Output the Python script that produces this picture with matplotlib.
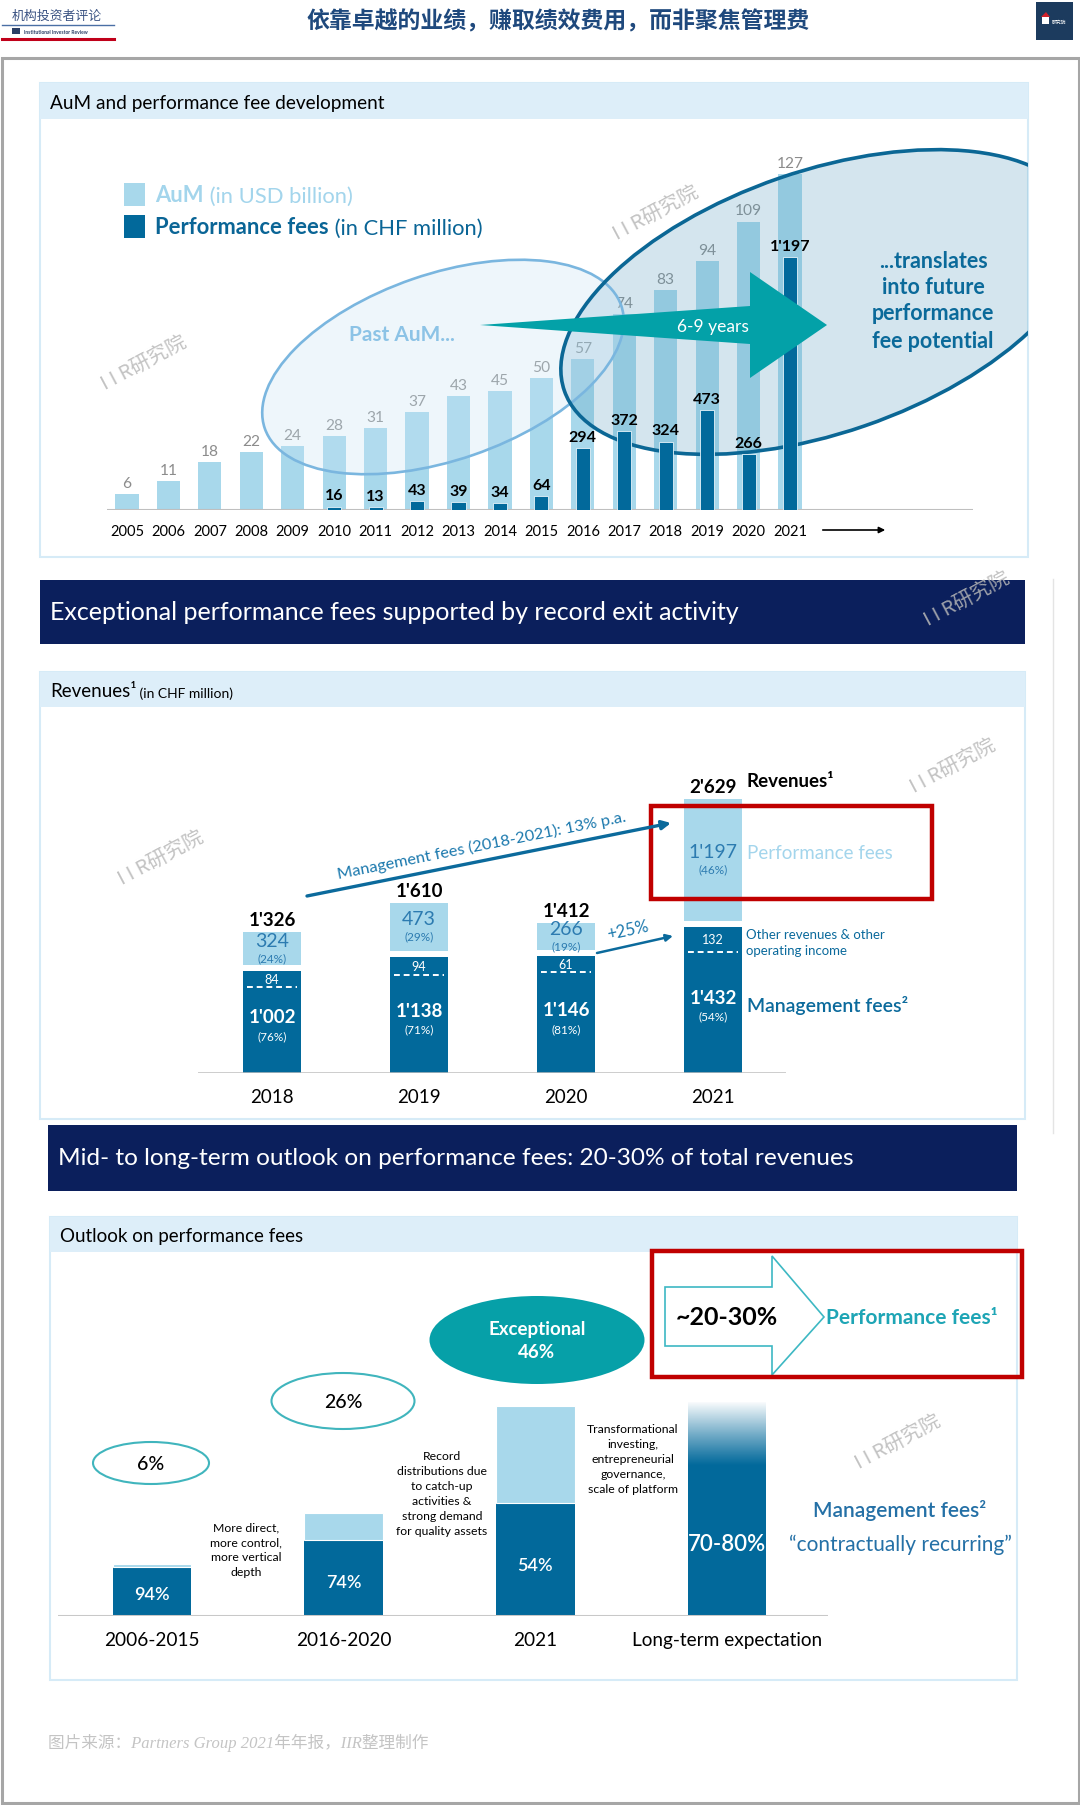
import numpy as np
import matplotlib
matplotlib.use("Agg")
import matplotlib.pyplot as plt
from matplotlib.patches import Rectangle, Ellipse, Polygon

plt.rcParams['font.family'] = ['Lato', 'Noto Sans CJK SC', 'DejaVu Sans']

# ---------------- data ----------------
years = ["2005", "2006", "2007", "2008", "2009", "2010", "2011", "2012", "2013",
         "2014", "2015", "2016", "2017", "2018", "2019", "2020", "2021"]
aum_usd_bn = [6, 11, 18, 22, 24, 28, 31, 37, 43, 45, 50, 57, 74, 83, 94, 109, 127]
perf_fees_chf_m = [None, None, None, None, None, 16, 13, 43, 39, 34, 64,
                   294, 372, 324, 473, 266, 1197]

rev_years = ["2018", "2019", "2020", "2021"]
mgmt_fees_incl_other = [1002, 1138, 1146, 1432]
other_revenues = [84, 94, 61, 132]
rev_perf_fees = [324, 473, 266, 1197]
rev_total = [1326, 1610, 1412, 2629]
mgmt_share_lbl = ["(76%)", "(71%)", "(81%)", "(54%)"]
perf_share_lbl = ["(24%)", "(29%)", "(19%)", "(46%)"]

outlook_periods = ["2006-2015", "2016-2020", "2021", "Long-term expectation"]
outlook_revenue_index = [25, 49, 100, 102]
outlook_mgmt_share = [0.94, 0.74, 0.54, 0.75]
outlook_mgmt_lbl = ["94%", "74%", "54%", "70-80%"]
outlook_perf_lbl = ["6%", "26%", "46%", "~20-30%"]
lt_perf_upper = 0.30

# ---------------- style ----------------
W, H, DPI = 1080, 1806, 100
LIGHT = '#a8d8eb'
DARK = '#02699b'
NAVY = '#0b1f5c'
BAND = '#ddeef9'
TEAL = '#03a1a8'
GRAYL = '#8c8c8c'
RED = '#c00000'
BLUE_TXT = '#0b6a9c'

fig = plt.figure(figsize=(W / DPI, H / DPI), dpi=DPI)
fig.patch.set_facecolor('white')


def pixax(x0, y0, x1, y1, z=1):
    ax = fig.add_axes([x0 / W, 1 - y1 / H, (x1 - x0) / W, (y1 - y0) / H], zorder=z)
    ax.patch.set_visible(False)
    return ax


bg = pixax(0, 0, W, H, z=0)
bg.set_xlim(0, W); bg.set_ylim(H, 0); bg.axis('off')
P = bg.transData

ov = pixax(0, 0, W, H, z=10)
ov.set_xlim(0, W); ov.set_ylim(H, 0); ov.axis('off')

# ---------------- frame & header ----------------
bg.add_patch(Rectangle((1.5, 58.5), W - 3, H - 60, fill=False, ec='#a6a6a6', lw=2.2))
ov.text(558, 22, "依靠卓越的业绩，赚取绩效费用，而非聚焦管理费", ha='center', va='center',
        fontsize=16.5, fontweight='bold', color='#1f497d', family=['Noto Sans CJK SC'])
# left logo
ov.text(57, 16, "机构投资者评论", ha='center', va='center', fontsize=9.3,
        color='#3a5282', family=['Noto Sans CJK SC'])
ov.plot([2, 114], [26, 26], color='#4a6fa5', lw=1.0)
ov.add_patch(Rectangle((12, 29), 8, 6, fc='#2b3f66', ec='none'))
ov.text(24, 32.5, "Institutional Investor Review", ha='left', va='center', fontsize=3.6,
        fontweight='bold', color='#2b3f66')
ov.plot([2, 114], [40, 40], color='#c0001a', lw=2.2)
# right logo
ov.add_patch(Rectangle((1036, 3), 37, 38, fc='#1c3b5e', ec='none'))
ov.add_patch(Rectangle((1042, 18), 7, 7, fc='white', ec='none'))
ov.add_patch(Polygon([[1041, 18], [1046, 13], [1050, 18]], closed=True, fc='#d0202a', ec='none'))
ov.text(1052, 22, "研究院", ha='left', va='center', fontsize=3.5, color='white',
        family=['Noto Sans CJK SC'])


def panel(x0, y0, x1, y1, band_h, title_pieces):
    bg.add_patch(Rectangle((x0, y0), x1 - x0, y1 - y0, fill=False, ec='#d6ebf7', lw=1.5))
    bg.add_patch(Rectangle((x0, y0), x1 - x0, band_h, fc=BAND, ec='none'))
    prev = None
    for s, fs, extra in title_pieces:
        if prev is None:
            prev = ov.text(x0 + 10, y0 + band_h / 2 + 1, s, ha='left', va='center',
                           fontsize=fs, color='black', **extra)
        else:
            prev = ov.annotate(s, xy=(1, 0), xycoords=prev, ha='left', va='bottom',
                               fontsize=fs, color='black', **extra)


def banner(x0, y0, x1, y1, text, fs):
    bg.add_patch(Rectangle((x0, y0), x1 - x0, y1 - y0, fc=NAVY, ec='none'))
    ov.text(x0 + 10, (y0 + y1) / 2, text, ha='left', va='center', fontsize=fs, color='white')


panel(40, 84, 1028, 558, 36, [("AuM and performance fee development", 13.7, {})])
banner(40, 581, 1025, 645, "Exceptional performance fees supported by record exit activity", 18)
panel(40, 673, 1025, 1120, 35, [("Revenues¹", 13.5, {}), (" (in CHF million)", 10, {})])
bg.plot([1053, 1053], [580, 1134], color='#e4e4e4', lw=1)
banner(48, 1126, 1017, 1192,
       "Mid- to long-term outlook on performance fees: 20-30% of total revenues", 17.6)
panel(50, 1218, 1017, 1681, 35, [("Outlook on performance fees", 13.5, {})])

# ---------------- chart 1: AuM & performance fees ----------------
AX1 = (107, 120, 973, 511)
SP1, X01 = 41.44, 127
ax1 = pixax(*AX1, z=2)
ax2 = ax1.twinx()
ax2.set_zorder(3)
ax2.patch.set_visible(False)
xs = np.arange(len(years))
ax1.set_xlim((AX1[0] - X01) / SP1, (AX1[2] - X01) / SP1)
ax1.set_ylim(0, (AX1[3] - AX1[1]) / 2.646)
ax2.set_ylim(0, (AX1[3] - AX1[1]) / 0.2114)

ax1.bar(xs, aum_usd_bn, width=0.56, color=LIGHT, zorder=2)
for i, v in enumerate(aum_usd_bn):
    ax1.annotate(str(v), (i, v), xytext=(0, 3), textcoords='offset points', ha='center',
                 va='bottom', fontsize=11.2, color=GRAYL, zorder=2.5)
ax1.axhline(0, color='#bfbfbf', lw=1.5, zorder=4)
ax1.set_xticks(xs)
ax1.set_xticklabels(years, fontsize=10.5)
ax1.tick_params(axis='x', length=0, pad=10)
ax1.set_yticks([])
for s in ax1.spines.values():
    s.set_visible(False)
ax2.axis('off')

clip1 = Rectangle((40, 84), 988, 474, transform=P)
big_fill = Ellipse((822, 303), 545, 262, angle=-19, transform=P,
                   fc=(0.35, 0.62, 0.75), alpha=0.26, ec='none', zorder=3)
past_fill = Ellipse((443, 368), 377, 186, angle=-19, transform=P,
                    fc=(0.78, 0.89, 0.96), alpha=0.3, ec='none', zorder=3.1)
big_edge = Ellipse((822, 303), 545, 262, angle=-19, transform=P,
                   fill=False, ec='#0b6795', lw=2.6, zorder=3.3)
past_edge = Ellipse((443, 368), 377, 186, angle=-19, transform=P,
                    fill=False, ec='#7ab6df', lw=1.9, zorder=3.2)
for p in (big_fill, past_fill, big_edge, past_edge):
    ax1.add_patch(p)
    p.set_clip_path(clip1)

pi = [i for i, v in enumerate(perf_fees_chf_m) if v is not None]
pv = [v for v in perf_fees_chf_m if v is not None]
ax2.bar(pi, pv, width=0.34, color=DARK, ec='#e6f3fa', lw=0.6, zorder=2)
for i, v in zip(pi, pv):
    ax2.annotate(f"{v:,}".replace(",", "'"), (i, v), xytext=(0, 3), textcoords='offset points',
                 ha='center', va='bottom', fontsize=11.5, fontweight='bold', color='black',
                 zorder=4)

arrow = Polygon([[480, 326], [750, 307], [750, 273], [827, 326], [750, 379], [750, 345]],
                closed=True, transform=P, fc=TEAL, ec='none', zorder=5)
ax2.add_patch(arrow)
arrow.set_clip_on(False)
ax2.text(713, 327, "6-9 years", transform=P, ha='center', va='center', fontsize=12.5,
         color='white', zorder=6)
ax2.text(402, 335, "Past AuM...", transform=P, ha='center', va='center', fontsize=15,
         fontweight='bold', color='#8cc3e6', zorder=6)
for yy, s in zip([262, 288, 314, 341],
                 ["...translates", "into future", "performance", "fee potential"]):
    ax2.text(933, yy, s, transform=P, ha='center', va='center', fontsize=15.5,
             fontweight='bold', color='#0b6a9a', zorder=6)

# legend
ov.add_patch(Rectangle((124, 184), 21, 23, fc=LIGHT, ec='none'))
ov.add_patch(Rectangle((124, 216), 21, 23, fc=DARK, ec='none'))
t = ov.text(155, 196, "AuM", ha='left', va='center', fontsize=15.8, fontweight='bold',
            color='#a3d5ec')
ov.annotate(" (in USD billion)", xy=(1, 0), xycoords=t, ha='left', va='bottom',
            fontsize=15.8, color='#a3d5ec')
t = ov.text(155, 228, "Performance fees", ha='left', va='center', fontsize=15.8,
            fontweight='bold', color='#0a6596')
ov.annotate(" (in CHF million)", xy=(1, 0), xycoords=t, ha='left', va='bottom',
            fontsize=15.8, color='#0a6596')
ov.annotate("", xy=(888, 531), xytext=(820, 531),
            arrowprops=dict(arrowstyle='-|>', color='black', lw=1.2, mutation_scale=9))

# ---------------- chart 2: revenues ----------------
AX3 = (198, 760, 786, 1074)
SP2, X02 = 147, 272
S2 = 0.102
GAP = 58
OTHER_SCALE = 1.85
OTHER_MIN = 160
BW2 = 0.395
ax3 = pixax(*AX3, z=2)
xr = np.arange(len(rev_years))
ax3.set_xlim((AX3[0] - X02) / SP2, (AX3[2] - X02) / SP2)
ax3.set_ylim(0, (AX3[3] - AX3[1]) / S2)
mg = np.array(mgmt_fees_incl_other)
ot = np.array(other_revenues)
pf = np.array(rev_perf_fees)
ax3.bar(xr, mg, width=BW2, color=DARK, zorder=2)
ax3.bar(xr, pf, bottom=mg + GAP, width=BW2, color=LIGHT, zorder=2)
for i in xr:
    band = max(ot[i] * OTHER_SCALE, OTHER_MIN)
    ydash = mg[i] - band
    ax3.plot([i - BW2 / 2 + 0.03, i + BW2 / 2 - 0.03], [ydash, ydash], color='white',
             lw=1.4, ls=(0, (3, 2)), zorder=3)
    ax3.annotate(f"{rev_total[i]:,}".replace(",", "'"), (i, mg[i] + GAP + pf[i]),
                 xytext=(0, 3), textcoords='offset points', ha='center', va='bottom',
                 fontsize=13.5, fontweight='bold', color='black')
    yc = mg[i] + GAP + pf[i] / 2
    ax3.annotate(f"{pf[i]:,}".replace(",", "'"), (i, yc), xytext=(0, 6),
                 textcoords='offset points', ha='center', va='center', fontsize=14,
                 color='#2c7bb0')
    ax3.annotate(perf_share_lbl[i], (i, yc), xytext=(0, -6.5), textcoords='offset points',
                 ha='center', va='center', fontsize=8.5, color='#2c7bb0')
    ax3.text(i, mg[i] - band / 2, str(ot[i]), ha='center', va='center',
             fontsize=9, color='white', zorder=4)
    ym = ((mg[i] - band) / 2 + mg[i] / 2) / 2
    ax3.annotate(f"{mg[i]:,}".replace(",", "'"), (i, ym), xytext=(0, 6.5),
                 textcoords='offset points', ha='center', va='center', fontsize=13.5,
                 fontweight='bold', color='white', zorder=4)
    ax3.annotate(mgmt_share_lbl[i], (i, ym), xytext=(0, -7), textcoords='offset points',
                 ha='center', va='center', fontsize=8.5, color='white', zorder=4)
ax3.axhline(0, color='#bfbfbf', lw=1.8, zorder=4)
ax3.set_xticks(xr)
ax3.set_xticklabels(rev_years, fontsize=13.5)
ax3.tick_params(axis='x', length=0, pad=11)
ax3.set_yticks([])
for s in ax3.spines.values():
    s.set_visible(False)

ov.text(747, 782, "Revenues¹", ha='left', va='center', fontsize=13.5, fontweight='bold',
        color='black')
ov.text(747, 854, "Performance fees", ha='left', va='center', fontsize=13.5, color='#a3d5ec')
ov.text(746, 935, "Other revenues & other", ha='left', va='center', fontsize=9.5, color=BLUE_TXT)
ov.text(746, 951, "operating income", ha='left', va='center', fontsize=9.5, color=BLUE_TXT)
ov.text(747, 1006, "Management fees²", ha='left', va='center', fontsize=14,
        fontweight='semibold', color=BLUE_TXT)
ov.add_patch(Rectangle((651, 807), 281, 93, fill=False, ec=RED, lw=3.2))
ov.annotate("", xy=(671, 824), xytext=(307, 897),
            arrowprops=dict(arrowstyle='-|>', color=BLUE_TXT, lw=2.4, mutation_scale=13,
                            shrinkA=0, shrinkB=0))
ov.text(482, 846, "Management fees (2018-2021): 13% p.a.", ha='center', va='center',
        rotation=11.3, rotation_mode='anchor', fontsize=11.8, color='#1a78ad')
ov.annotate("", xy=(673, 937), xytext=(597, 954),
            arrowprops=dict(arrowstyle='-|>', color=BLUE_TXT, lw=1.8, mutation_scale=10,
                            shrinkA=0, shrinkB=0))
ov.text(628, 931, "+25%", ha='center', va='center', rotation=12, rotation_mode='anchor',
        fontsize=12, color='#1a78ad')

# ---------------- chart 3: outlook ----------------
AX4 = (58, 1380, 828, 1617)
SP3, X03 = 191.7, 152
S3 = 2.1
BW3 = 0.41
ax4 = pixax(*AX4, z=2)
xo = np.arange(len(outlook_periods))
tot = np.array(outlook_revenue_index, dtype=float)
shr = np.array(outlook_mgmt_share)
dark_h = tot * shr
ax4.bar(xo[:3], dark_h[:3], width=BW3, color=DARK, zorder=2)
ax4.bar(xo[:3], (tot - dark_h)[:3], bottom=dark_h[:3], width=BW3, color=LIGHT,
        ec='white', lw=0.8, zorder=2)
ax4.bar(xo[3], tot[3], width=BW3, color=DARK, zorder=2)
N = 200
ramp = np.ones((N, 1, 4))
ramp[:, 0, 3] = np.linspace(1, 0, N) ** 1.1
y_fade0 = tot[3] * (1 - lt_perf_upper)
ax4.imshow(ramp, extent=[xo[3] - BW3 / 2, xo[3] + BW3 / 2, y_fade0, tot[3]], origin='upper',
           aspect='auto', zorder=3, interpolation='bilinear')
ax4.set_xlim((AX4[0] - X03) / SP3, (AX4[2] - X03) / SP3)
ax4.set_ylim(0, (AX4[3] - AX4[1]) / S3)
for i in xo:
    fs = 16 if i == 3 else 13
    ax4.text(i, dark_h[i] * 0.45, outlook_mgmt_lbl[i], ha='center', va='center',
             fontsize=fs, fontweight='semibold', color='white', zorder=4)
ax4.axhline(0, color='#c8c8c8', lw=2.2, zorder=4)
ax4.set_xticks(xo)
ax4.set_xticklabels(outlook_periods, fontsize=13.7)
ax4.tick_params(axis='x', length=0, pad=11)
ax4.set_yticks([])
for s in ax4.spines.values():
    s.set_visible(False)

ov.add_patch(Ellipse((151, 1464), 116, 42, fc='white', ec='#40b5bd', lw=1.5))
ov.text(151, 1465, outlook_perf_lbl[0], ha='center', va='center', fontsize=14,
        fontweight='medium', color='black')
ov.add_patch(Ellipse((343, 1402), 143, 56, fc='white', ec='#40b5bd', lw=1.5))
ov.text(343, 1403, outlook_perf_lbl[1], ha='center', va='center', fontsize=14,
        fontweight='medium', color='black')
ov.add_patch(Ellipse((537, 1341), 215, 88, fc='#06a0a8', ec='none'))
ov.text(537, 1330, "Exceptional", ha='center', va='center', fontsize=13.5,
        fontweight='bold', color='white')
ov.text(537, 1353, outlook_perf_lbl[2], ha='center', va='center', fontsize=13.5,
        fontweight='bold', color='white')

ov.add_patch(Polygon([[665, 1288], [772, 1288], [772, 1257], [824, 1318], [772, 1376],
                      [772, 1347], [665, 1347]], closed=True, fc='white', ec='#3db8c3', lw=1.2))
ov.text(727, 1318, outlook_perf_lbl[3], ha='center', va='center', fontsize=18,
        fontweight='bold', color='black')
ov.text(826, 1318, "Performance fees¹", ha='left', va='center', fontsize=15,
        fontweight='bold', color='#1ea5b5')
ov.add_patch(Rectangle((652, 1252), 370, 126, fill=False, ec=RED, lw=3.2))

notes = [
    (246, 1528, ["More direct,", "more control,", "more vertical", "depth"]),
    (442, 1457, ["Record", "distributions due", "to catch-up", "activities &",
                 "strong demand", "for quality assets"]),
    (633, 1430, ["Transformational", "investing,", "entrepreneurial", "governance,",
                 "scale of platform"]),
]
for cx, y0, lines in notes:
    for k, s in enumerate(lines):
        ov.text(cx, y0 + k * 15, s, ha='center', va='center', fontsize=8.8, color='black')

ov.text(900, 1511, "Management fees²", ha='center', va='center', fontsize=15,
        fontweight='semibold', color='#2470a6')
ov.text(900, 1545, "“contractually recurring”", ha='center', va='center', fontsize=15,
        color='#2470a6')

# ---------------- footer & watermarks ----------------
ov.text(48, 1743, "图片来源：Partners Group 2021年年报，IIR整理制作", ha='left', va='center',
        fontsize=12, color='#c4c4c4', style='italic',
        family=['Liberation Serif', 'Noto Sans CJK SC'])
for wx, wy in [(144, 363), (656, 213), (967, 599), (161, 858), (953, 766), (898, 1442)]:
    ov.text(wx, wy, "I I R研究院", ha='center', va='center', rotation=28, fontsize=14.5,
            color='#b8b8b8', alpha=0.85, family=['Noto Sans CJK SC'])

fig.savefig("out.png", dpi=DPI, facecolor='white')
